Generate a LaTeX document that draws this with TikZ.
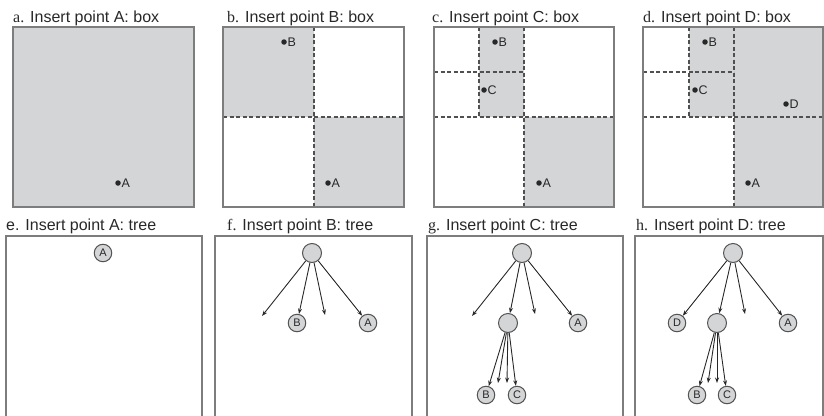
\documentclass[tikz,border=0pt]{standalone}
\usepackage{fontspec}
\setmainfont{Liberation Sans}
\newfontfamily\serifl{Liberation Serif}
\usetikzlibrary{arrows.meta}
\definecolor{cellgray}{RGB}{212,213,215}
\definecolor{framegray}{RGB}{125,125,125}
\definecolor{dashc}{RGB}{80,80,80}
\definecolor{ink}{RGB}{40,40,40}
\begin{document}
\begin{tikzpicture}[x=1pt,y=-1pt,
  title/.style={anchor=base west,inner sep=0pt,font=\fontsize{16}{18}\selectfont,text=ink},
  outer/.style={draw=framegray,line width=1.8pt},
  divline/.style={draw=dashc,line width=1.4pt,dash pattern=on 4pt off 2.5pt},
  pt/.style={circle,fill=ink,inner sep=0pt,minimum size=5.5pt},
  ptlab/.style={anchor=west,inner sep=0.5pt,font=\fontsize{12.5}{13}\selectfont,text=ink},
  leaf/.style={circle,draw=ink!80,fill=cellgray,line width=1pt,inner sep=0pt,minimum size=17.5pt,font=\fontsize{11}{11}\selectfont,text=ink},
  innode/.style={circle,draw=ink!80,fill=cellgray,line width=1pt,inner sep=0pt,minimum size=19pt},
  edge/.style={draw=ink,line width=0.9pt,-{Stealth[length=5.5pt,width=4pt]}},
  tframe/.style={draw=framegray,line width=1.3pt}
]
\useasboundingbox (0,0) rectangle (824,415);

% ---------- titles ----------
\node[title] (ta) at (13,22.5) {{\serifl a.} Insert point A: box};
\node[title] (tb) at (227,22.5) {{\serifl b.} Insert point B: box};
\node[title] (tc) at (432,22.5) {{\serifl c.} Insert point C: box};
\node[title] (td) at (643,22.5) {{\serifl d.} Insert point D: box};
\node[title] (te) at (6,230) {e. Insert point A: tree};
\node[title] (tf) at (227,230) {{\serifl f.} Insert point B: tree};
\node[title] (tg) at (428,230) {{\serifl g.} Insert point C: tree};
\node[title] (th) at (636,230) {{\serifl h.} Insert point D: tree};

% ---------- panel a ----------
\fill[cellgray] (13,27) rectangle (194,207);
\draw[outer] (13,27) rectangle (194,207);
\node[pt] (aA) at (118,183) {};
\node[ptlab] (aAl) at (aA.east) {A};

% ---------- panel b ----------
\fill[cellgray] (223,27) rectangle (314,117);
\fill[cellgray] (314,117) rectangle (404,207);
\draw[divline] (314,27) -- (314,207);
\draw[divline] (223,117) -- (404,117);
\draw[outer] (223,27) rectangle (404,207);
\node[pt] (bB) at (284,42) {};
\node[ptlab] (bBl) at (bB.east) {B};
\node[pt] (bA) at (328,183) {};
\node[ptlab] (bAl) at (bA.east) {A};

% ---------- panel c ----------
\fill[cellgray] (479,27) rectangle (524,117);
\fill[cellgray] (524,117) rectangle (614,207);
\draw[divline] (524,27) -- (524,207);
\draw[divline] (434,117) -- (614,117);
\draw[divline] (479,27) -- (479,117);
\draw[divline] (434,72) -- (524,72);
\draw[outer] (434,27) rectangle (614,207);
\node[pt] (cB) at (495,42) {};
\node[ptlab] (cBl) at (cB.east) {B};
\node[pt] (cC) at (484,90) {};
\node[ptlab] (cCl) at (cC.east) {C};
\node[pt] (cA) at (539,183) {};
\node[ptlab] (cAl) at (cA.east) {A};

% ---------- panel d ----------
\fill[cellgray] (689,27) rectangle (734,117);
\fill[cellgray] (734,27) rectangle (823,207);
\draw[divline] (734,27) -- (734,207);
\draw[divline] (643,117) -- (823,117);
\draw[divline] (689,27) -- (689,117);
\draw[divline] (643,72) -- (734,72);
\draw[outer] (643,27) rectangle (823,207);
\node[pt] (dB) at (705,42) {};
\node[ptlab] (dBl) at (dB.east) {B};
\node[pt] (dC) at (695,90) {};
\node[ptlab] (dCl) at (dC.east) {C};
\node[pt] (dD) at (786,104) {};
\node[ptlab] (dDl) at (dD.east) {D};
\node[pt] (dA) at (748,183) {};
\node[ptlab] (dAl) at (dA.east) {A};

% ---------- bottom frames ----------
\draw[tframe] (6,418) -- (6,236) -- (202,236) -- (202,418);
\draw[tframe] (215,418) -- (215,236) -- (412,236) -- (412,418);
\draw[tframe] (427,418) -- (427,236) -- (623,236) -- (623,418);
\draw[tframe] (635,418) -- (635,236) -- (823,236) -- (823,418);

% ---------- tree e ----------
\node[leaf] (eA) at (103,253) {A};

% ---------- tree f ----------
\node[innode] (fr) at (312,253) {};
\coordinate (f1) at (262,316);
\node[leaf] (fB) at (297,323) {B};
\coordinate (f2) at (325,315);
\node[leaf] (fA) at (368,323) {A};
\draw[edge] (fr) -- (f1);
\draw[edge] (fr) -- (fB);
\draw[edge] (fr) -- (f2);
\draw[edge] (fr) -- (fA);

% ---------- tree g ----------
\node[innode] (gr) at (522,253) {};
\coordinate (g1) at (472,316);
\node[innode] (gm) at (508,323) {};
\coordinate (g2) at (535,314);
\node[leaf] (gA) at (578,323) {A};
\node[leaf] (gB) at (486,395) {B};
\coordinate (g3) at (498,383);
\coordinate (g4) at (507,383);
\node[leaf] (gC) at (517,395) {C};
\draw[edge] (gr) -- (g1);
\draw[edge] (gr) -- (gm);
\draw[edge] (gr) -- (g2);
\draw[edge] (gr) -- (gA);
\draw[edge] (gm) -- (gB);
\draw[edge] (gm) -- (g3);
\draw[edge] (gm) -- (g4);
\draw[edge] (gm) -- (gC);

% ---------- tree h ----------
\node[innode] (hr) at (733,253) {};
\node[leaf] (hD) at (677,323) {D};
\node[innode] (hm) at (717,323) {};
\coordinate (h2) at (745,314);
\node[leaf] (hA) at (788,323) {A};
\node[leaf] (hB) at (697,395) {B};
\coordinate (h3) at (708,383);
\coordinate (h4) at (717,383);
\node[leaf] (hC) at (727,395) {C};
\draw[edge] (hr) -- (hD);
\draw[edge] (hr) -- (hm);
\draw[edge] (hr) -- (h2);
\draw[edge] (hr) -- (hA);
\draw[edge] (hm) -- (hB);
\draw[edge] (hm) -- (h3);
\draw[edge] (hm) -- (h4);
\draw[edge] (hm) -- (hC);
\end{tikzpicture}
\end{document}
